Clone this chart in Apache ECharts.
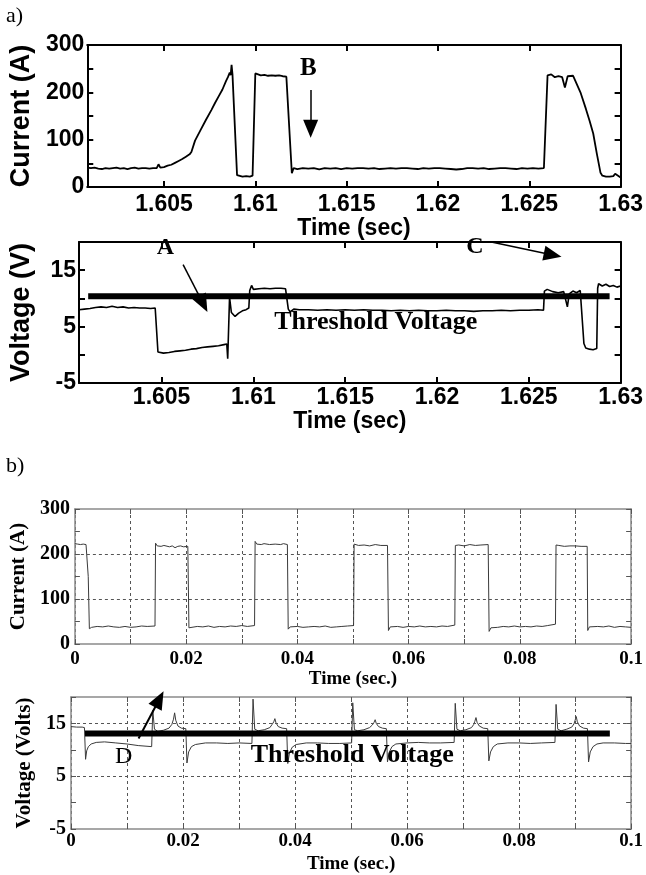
<!DOCTYPE html>
<html><head><meta charset="utf-8">
<script src="https://cdn.jsdelivr.net/npm/echarts@6/dist/echarts.min.js"></script>
<style>html,body{margin:0;padding:0;background:#fff;}#c{width:646px;height:875px;}</style>
</head><body><div id="c"></div>
<script>
// ---------- Panel a) current ----------
const aCurT = [1.6008,1.6010,1.6012,1.6014,1.6016,1.6018,1.6020,1.6022,1.6024,1.6026,1.6028,1.6030,1.6032,1.6034,1.6036,1.6038,1.6040,1.6042,1.6044,1.6046,1.6047,1.6048,1.6050,
1.6052,1.6054,1.6056,1.6058,1.6060,1.6062,1.6064,1.6065,1.6067,1.6070,1.6073,1.6076,1.6078,1.6080,1.6082,1.6084,1.6085,1.6086,1.60865,1.6087,1.60875,1.6090,
1.6091,1.6093,1.6095,1.6097,1.60985,1.6100,1.6101,1.6103,1.6105,1.6107,1.6109,1.6111,1.6113,1.6115,1.6117,1.6118,1.6120,1.6121,
1.6123,1.6126,1.6129,1.6132,1.6135,1.6138,1.6141,1.6144,1.6147,1.6150,1.6153,1.6156,1.6159,1.6162,1.6165,1.6168,1.6171,1.6174,1.6177,1.6180,1.6183,1.6186,1.6189,1.6192,1.6195,1.6198,
1.6201,1.6204,1.6207,1.6210,1.6213,1.6216,1.6219,1.6222,1.6225,1.6228,1.6231,1.6234,1.6237,1.6240,1.6243,1.6246,1.6249,1.6252,1.6255,1.6258,
1.6260,1.6262,1.6264,1.6266,1.6268,1.62695,1.6271,1.6272,1.6274,1.6275,1.6278,1.6281,1.6283,1.6285,1.6287,1.6289,1.6290,1.6292,1.6294,1.6296,1.6297,1.6298,1.6300];
const aCurA = [41,40,41,39,38,40,39,40,41,39,40,38,40,41,39,40,40,39,40,40,48,41,42,
45,47,51,55,59,64,69,74,98,120,142,163,178,192,206,224,232,242,236,258,238,25,
22,22,23,22,24,240,238,236,237,235,236,235,236,234,233,232,29,40,
38,40,39,40,37,40,39,40,38,40,39,40,40,39,40,38,39,40,39,40,40,39,38,40,39,40,
40,39,38,37,38,40,40,39,40,38,39,40,40,39,38,40,39,40,39,40,
236,238,232,234,232,210,234,236,235,236,200,165,140,113,70,30,24,22,22,23,28,25,20];

// ---------- Panel a) voltage ----------
const aVolT = [1.6005,1.6008,1.6011,1.6014,1.6017,1.6020,1.6023,1.6026,1.6029,1.6032,1.6035,1.6038,1.6041,1.6044,1.60465,
1.6048,1.6051,1.6054,1.6057,1.6060,1.6063,1.6066,1.6069,1.6072,1.6075,1.6078,1.6081,1.6084,1.60855,1.6086,1.6087,1.6088,1.6090,1.6092,1.6094,1.6096,1.60975,
1.6098,1.6099,1.6100,1.6103,1.6106,1.6109,1.6112,1.6115,1.61175,1.6119,1.6120,1.6122,
1.6125,1.6130,1.6135,1.6140,1.6145,1.6150,1.6155,1.6160,1.6165,1.6170,1.6175,1.6180,1.6185,1.6190,1.6195,1.6200,1.6205,1.6210,1.6215,1.6220,1.6225,1.6230,1.6235,1.6240,1.6245,1.6250,1.6255,1.6258,
1.62585,1.6260,1.6263,1.6266,1.6269,1.6271,1.6272,1.6274,1.6276,1.6278,1.6279,1.6280,1.6281,1.6283,1.6285,1.6287,1.62875,1.6288,1.6290,1.6292,1.6294,1.6296,1.6298,1.6300];
const aVolV = [8.0,8.1,8.2,8.4,8.5,8.4,8.6,8.4,8.5,8.3,8.4,8.3,8.3,8.2,8.3,
0.5,0.3,0.4,0.6,0.7,0.8,1.0,1.1,1.3,1.4,1.5,1.6,1.8,1.9,-0.7,10.2,7.5,6.8,7.4,7.8,8.0,8.3,
11.4,12.3,11.6,11.7,11.8,11.7,11.8,11.8,11.7,8.1,7.6,8.1,
8.0,8.0,7.9,8.0,7.9,8.0,7.9,8.0,7.9,7.9,7.8,7.9,7.8,7.9,7.8,7.8,7.9,7.8,7.8,7.7,7.8,7.8,7.9,7.8,7.9,7.9,8.0,7.9,
11.3,11.6,11.2,11.0,11.2,8.5,10.8,11.3,11.0,11.4,11.2,2.0,1.2,1.0,0.9,1.1,11.8,12.6,12.2,12.5,12.1,12.3,12.0,12.2];
const aThreshT = [1.6010, 1.6294];
const aThreshV = [10.4, 10.4];

// ---------- Panel b) current ----------
const bCurT = [0,0.0005,0.0010,0.0015,0.0020,0.0023,0.0024,0.0026,0.0028,0.003,0.004,0.005,0.006,0.007,0.008,0.009,0.010,0.011,0.012,0.013,0.0144,
0.0145,0.0148,0.0155,0.016,0.017,0.0175,0.0180,0.0185,0.019,0.0195,0.0203,
0.0205,0.0208,0.022,0.023,0.024,0.025,0.026,0.027,0.028,0.029,0.030,0.031,0.0323,
0.0324,0.0327,0.0335,0.034,0.035,0.036,0.037,0.0375,0.0382,
0.03835,0.0387,0.040,0.041,0.042,0.043,0.044,0.045,0.046,0.047,0.048,0.049,0.0501,
0.0502,0.0505,0.051,0.052,0.053,0.054,0.055,0.0562,
0.05637,0.0567,0.058,0.059,0.060,0.061,0.062,0.063,0.064,0.065,0.066,0.067,0.0683,
0.0684,0.069,0.070,0.071,0.072,0.073,0.0743,
0.07447,0.0748,0.076,0.077,0.078,0.079,0.080,0.081,0.082,0.083,0.084,0.085,0.0864,
0.0865,0.087,0.088,0.089,0.090,0.091,0.0921,
0.0922,0.0925,0.094,0.095,0.096,0.097,0.098,0.099,0.100];
const bCurA = [223,222,221,222,221,220,150,34,38,37,39,38,40,38,37,39,37,38,40,39,40,
224,218,217,219,216,218,214,217,218,216,217,
36,38,39,38,40,37,39,38,40,39,41,39,41,
228,222,221,223,221,222,221,223,221,
33,38,39,37,38,39,38,40,37,38,39,40,41,
222,220,219,220,218,221,219,219,
30,38,39,37,39,38,40,38,39,38,40,39,42,
219,220,218,221,219,220,221,
28,36,37,39,38,40,38,39,38,40,39,41,44,
220,219,217,218,218,217,217,
30,38,39,38,40,37,39,38,37];

// ---------- Panel b) voltage ----------
const bVolT = [0,0.001,0.002,0.0024,
0.0026,0.0028,0.0031,0.0036,0.0045,0.006,0.008,0.010,0.012,0.0144,
0.0146,0.0149,0.0155,0.0165,0.0175,0.0180,0.0183,0.0185,0.0187,0.0191,0.0197,0.0205,
0.0207,0.0210,0.0215,0.0222,0.024,0.026,0.028,0.030,0.0323,
0.0325,0.0328,0.0334,0.0345,0.0355,0.0359,0.0362,0.0364,0.0366,0.0370,0.0377,0.0385,
0.0387,0.0390,0.0395,0.0402,0.042,0.044,0.046,0.048,0.0501,
0.0503,0.0506,0.0512,0.0523,0.0533,0.0538,0.0541,0.0543,0.0545,0.0549,0.0556,0.0563,
0.0565,0.0568,0.0573,0.058,0.060,0.062,0.064,0.066,0.0684,
0.0686,0.0689,0.0695,0.0705,0.0715,0.0719,0.0721,0.0723,0.0725,0.0729,0.0736,0.0744,
0.0746,0.0749,0.0754,0.0761,0.078,0.080,0.082,0.084,0.0864,
0.0866,0.0869,0.0875,0.0885,0.0894,0.0898,0.0900,0.0902,0.0904,0.0908,0.0915,0.0922,
0.0924,0.0927,0.0932,0.0939,0.095,0.097,0.099,0.100];
const bVolV = [14.4,14.3,14.3,14.2,
8.2,9.8,10.6,11.1,11.4,11.5,11.3,11.1,10.8,10.6,
17.5,13.9,13.5,13.7,14.1,14.8,15.8,17.0,15.6,14.5,14.1,14.0,
7.5,9.6,10.6,11.0,11.3,11.3,11.2,11.3,11.2,
19.6,13.9,13.6,13.8,14.2,14.8,15.3,15.9,15.1,14.4,14.1,14.0,
7.4,9.4,10.5,11.0,11.3,11.3,11.2,11.2,11.3,
18.9,13.8,13.6,13.8,14.2,14.7,15.2,15.7,15.0,14.4,14.1,14.0,
7.7,9.5,10.6,11.1,11.3,11.4,11.3,11.3,11.4,
18.8,13.9,13.6,13.8,14.2,14.8,15.4,16.1,15.2,14.5,14.1,14.0,
7.9,9.6,10.6,11.1,11.3,11.3,11.2,11.3,11.4,
18.6,13.9,13.6,13.9,14.3,14.9,15.6,16.3,15.3,14.5,14.1,14.0,
7.7,9.6,10.6,11.1,11.3,11.3,11.2,11.2];
const bThreshT = [0.0025, 0.0962];
const bThreshV = [13.1, 13.1];

// ---------- ticks / grid values ----------
const aTimeTicks = [1.605, 1.61, 1.615, 1.62, 1.625, 1.63];
const bCurGrid = [100, 200];
const bVolGrid = [5, 15];

const zip = (t, v) => t.map((x, i) => [x, v[i]]);

const SANS = '"Liberation Sans", Arial, sans-serif';
const SERIF = '"Liberation Serif", "Times New Roman", serif';
const GRAYAX = '#8a8a8a';

function aX(grid, min, pos, withLabel, name, gap, lblMargin) {
  return {
    type: 'value', gridIndex: grid, min: min, max: 1.63, position: pos,
    axisLine: { show: true, onZero: false, lineStyle: { color: '#000', width: 2 } },
    axisTick: { show: true, inside: true, length: 6, lineStyle: { color: '#000', width: 2 }, customValues: aTimeTicks },
    axisLabel: { show: withLabel, customValues: aTimeTicks, margin: lblMargin, color: '#000', fontFamily: SANS, fontWeight: 'bold', fontSize: 23,
      formatter: v => String(+(+v).toFixed(3)) },
    splitLine: { show: false },
    name: withLabel ? name : '', nameLocation: 'middle', nameGap: gap,
    nameTextStyle: { color: '#000', fontFamily: SANS, fontWeight: 'bold', fontSize: 23 }
  };
}
function aY(grid, min, max, itv, pos, labelSet, name) {
  return {
    type: 'value', gridIndex: grid, min: min, max: max, interval: itv, position: pos,
    axisLine: { show: true, onZero: false, lineStyle: { color: '#000', width: 2 } },
    axisTick: { show: true, inside: true, length: 6, lineStyle: { color: '#000', width: 2 } },
    axisLabel: { show: pos === 'left', margin: 3, color: '#000', fontFamily: SANS, fontWeight: 'bold', fontSize: 23,
      formatter: v => labelSet.indexOf(Math.round(v)) >= 0 ? String(Math.round(v)) : '' },
    splitLine: { show: false },
    name: pos === 'left' ? name : '', nameLocation: 'middle', nameGap: 44, nameRotate: 90,
    nameTextStyle: { color: '#000', fontFamily: SANS, fontWeight: 'bold', fontSize: 27 }
  };
}
function bX(grid, pos, withLabel, gap, lblMargin) {
  return {
    type: 'value', gridIndex: grid, min: 0, max: 0.1, interval: 0.01, position: pos,
    axisLine: { show: true, onZero: false, lineStyle: { color: GRAYAX, width: 1.5 } },
    axisTick: { show: true, inside: true, length: 5, lineStyle: { color: '#555', width: 1 } },
    axisLabel: { show: withLabel, margin: lblMargin, color: '#000', fontFamily: SERIF, fontWeight: 'bold', fontSize: 19,
      formatter: v => { const k = Math.round(v * 100); if (k % 2) return ''; if (k === 0) return '0'; if (k === 10) return '0.1'; return (k / 100).toFixed(2); } },
    splitLine: { show: pos === 'bottom', lineStyle: { color: '#555', width: 1, type: [3, 3] } },
    name: withLabel ? 'Time (sec.)' : '', nameLocation: 'middle', nameGap: gap,
    nameTextStyle: { color: '#000', fontFamily: SERIF, fontWeight: 'bold', fontSize: 19 }
  };
}
function bY(grid, min, max, itv, pos, labelSet, name, gap) {
  return {
    type: 'value', gridIndex: grid, min: min, max: max, interval: itv, position: pos,
    axisLine: { show: true, onZero: false, lineStyle: { color: GRAYAX, width: 1.5 } },
    axisTick: { show: true, inside: true, length: 5, lineStyle: { color: '#555', width: 1 } },
    axisLabel: { show: pos === 'left', margin: 5, color: '#000', fontFamily: SERIF, fontWeight: 'bold', fontSize: 20,
      formatter: v => labelSet.indexOf(Math.round(v)) >= 0 ? String(Math.round(v)) : '' },
    splitLine: { show: false },
    name: pos === 'left' ? name : '', nameLocation: 'middle', nameGap: gap, nameRotate: 90,
    nameTextStyle: { color: '#000', fontFamily: SERIF, fontWeight: 'bold', fontSize: 21 }
  };
}

function textPoint(coord, text, font, size, weight) {
  return { coord: coord, value: text, symbol: 'rect', symbolSize: 1,
    itemStyle: { color: 'rgba(0,0,0,0)' },
    label: { show: true, position: 'inside', formatter: text, color: '#000', fontFamily: font, fontSize: size, fontWeight: weight } };
}
function arrow(from, to) {
  return [{ coord: from, symbol: 'none' }, { coord: to, symbol: 'triangle', symbolSize: [15, 18] }];
}

const chart = echarts.init(document.getElementById('c'), null, { renderer: 'canvas' });
chart.setOption({
  backgroundColor: '#fff',
  animation: false,
  grid: [
    { left: 77, top: 45, width: 544, height: 142 },
    { left: 77, top: 242, width: 546, height: 141 },
    { left: 71, top: 509, width: 561, height: 135 },
    { left: 71, top: 697, width: 561, height: 136 }
  ],
  xAxis: [
    aX(0, 1.6008, 'bottom', true, 'Time (sec)', 28, 6),
    aX(0, 1.6008, 'top', false, '', 0, 0),
    aX(1, 1.6005, 'bottom', true, 'Time (sec)', 25, 3),
    aX(1, 1.6005, 'top', false, '', 0, 0),
    bX(2, 'bottom', true, 26, 6),
    bX(2, 'top', false, 0, 0),
    bX(3, 'bottom', true, 26, 3),
    bX(3, 'top', false, 0, 0)
  ],
  yAxis: [
    aY(0, 0, 300, 50, 'left', [0, 100, 200, 300], 'Current (A)'),
    aY(0, 0, 300, 50, 'right', [], ''),
    aY(1, -5, 20, 5, 'left', [-5, 5, 15], 'Voltage (V)'),
    aY(1, -5, 20, 5, 'right', [], ''),
    bY(2, 0, 300, 50, 'left', [0, 100, 200, 300], 'Current (A)', 38),
    bY(2, 0, 300, 50, 'right', [], '', 0),
    bY(3, -5, 20, 5, 'left', [-5, 5, 15], 'Voltage (Volts)', 36),
    bY(3, -5, 20, 5, 'right', [], '', 0)
  ],
  graphic: [
    { type: 'text', left: 6, top: 5, style: { text: 'a)', fontFamily: SERIF, fontSize: 22, fill: '#000' } },
    { type: 'text', left: 6, top: 455, style: { text: 'b)', fontFamily: SERIF, fontSize: 22, fill: '#000' } }
  ],
  series: [
    { type: 'line', xAxisIndex: 0, yAxisIndex: 0, data: zip(aCurT, aCurA), showSymbol: false, clip: false,
      lineStyle: { color: '#000', width: 1.8 }, z: 3,
      markLine: { silent: true, symbol: ['none', 'none'], lineStyle: { color: '#000', width: 1.5, type: 'solid' }, label: { show: false },
        data: [arrow([1.61303, 205], [1.61303, 123])] },
      markPoint: { silent: true, data: [textPoint([1.6129, 251], 'B', SERIF, 25, 'bold')] } },
    { type: 'line', xAxisIndex: 2, yAxisIndex: 2, data: zip(aVolT, aVolV), showSymbol: false,
      lineStyle: { color: '#000', width: 1.6 }, z: 3 },
    { type: 'line', xAxisIndex: 2, yAxisIndex: 2, data: zip(aThreshT, aThreshV), showSymbol: false, clip: false,
      lineStyle: { color: '#000', width: 6, cap: 'butt' }, z: 4,
      markLine: { silent: true, symbol: ['none', 'none'], lineStyle: { color: '#000', width: 1.5, type: 'solid' }, label: { show: false },
        data: [arrow([1.60617, 16.0], [1.60727, 9.03]), arrow([1.62296, 20], [1.62630, 17.7])] },
      markPoint: { silent: true, data: [
        textPoint([1.60521, 18.96], 'A', SERIF, 24, 'bold'),
        textPoint([1.62207, 19.1], 'C', SERIF, 24, 'bold'),
        textPoint([1.61666, 5.83], 'Threshold Voltage', SERIF, 26, 'bold')] } },
    { type: 'line', xAxisIndex: 4, yAxisIndex: 4, data: zip(bCurT, bCurA), showSymbol: false,
      lineStyle: { color: '#3a3a3a', width: 1 }, z: 3,
      markLine: { silent: true, symbol: ['none', 'none'], label: { show: false },
        lineStyle: { color: '#555', width: 1, type: [3, 3] },
        data: bCurGrid.map(v => ({ yAxis: v })) } },
    { type: 'line', xAxisIndex: 6, yAxisIndex: 6, data: zip(bVolT, bVolV), showSymbol: false,
      lineStyle: { color: '#3a3a3a', width: 1 }, z: 3,
      markLine: { silent: true, symbol: ['none', 'none'], label: { show: false },
        lineStyle: { color: '#555', width: 1, type: [3, 3] },
        data: bVolGrid.map(v => ({ yAxis: v })) } },
    { type: 'line', xAxisIndex: 6, yAxisIndex: 6, data: zip(bThreshT, bThreshV), showSymbol: false, clip: false,
      lineStyle: { color: '#000', width: 6, cap: 'butt' }, z: 4,
      markLine: { silent: true, symbol: ['none', 'none'], lineStyle: { color: '#000', width: 2, type: 'solid' }, label: { show: false },
        data: [arrow([0.01206, 12.14], [0.01577, 19.56])] },
      markPoint: { silent: true, data: [
        textPoint([0.0094, 8.66], 'D', SERIF, 24, 'normal'),
        textPoint([0.0502, 8.96], 'Threshold Voltage', SERIF, 26, 'bold')] } }
  ]
});
</script></body></html>
